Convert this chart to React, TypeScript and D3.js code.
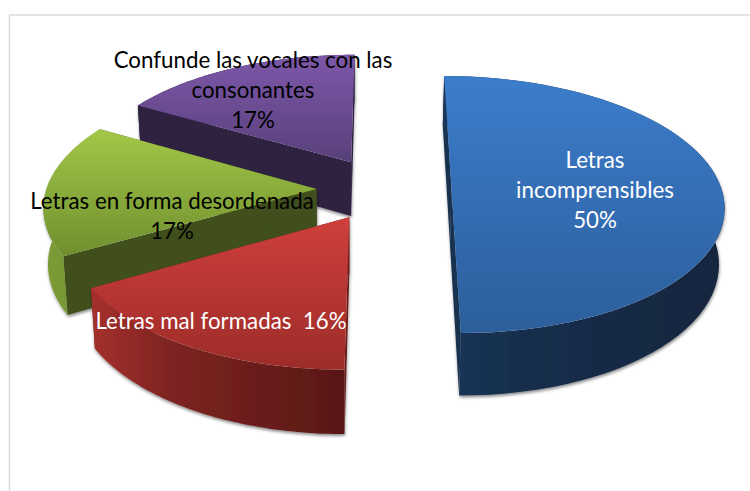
import React from "react";
import * as d3 from "d3";

const sliceNames = ["Letras incomprensibles", "Letras mal formadas", "Letras en forma desordenada", "Confunde las vocales con las consonantes"];
const sliceValues = [50, 16.67, 16.67, 16.66];
const labelLines = [
  ["Letras", "incomprensibles", "50%"],
  ["Letras mal formadas  16%"],
  ["Letras en forma desordenada", "17%"],
  ["Confunde las vocales con las", "consonantes", "17%"],
];
const labelColors = ["#ffffff", "#ffffff", "#000000", "#000000"];
const labelAnchors = [[595, 168], [221, 329], [172, 209], [253, 68]];
const topColors = [["#3c7dcb", "#2c5e9b"], ["#cf3f3b", "#9c2c29"], ["#a3c747", "#6f8f2f"], ["#7d58aa", "#58407a"]];
const rimColors = [["#1a3558", "#13263e"], ["#a5302c", "#571715"], ["#7b9c36", "#5f7c2a"], ["#2f2140", "#2f2140"]];
const sideColors = ["#16304f", "#6a1e1b", "#3f4f1d", "#2d2040"];

const W = 750, H = 491;
const cx = 384, cy = 189, A = 270, B = 126.6, persp = 0.121, explode = 0.25, depth = 55, squeeze = 0.985, pivot = 350;
const START = 0;

const xs = d3.scaleLinear().domain([-1, 1]).range([cx - A, cx + A]);
const ys = d3.scaleLinear().domain([-1, 1]).range([cy + B, cy - B]);

function project(u: number, v: number, low: boolean): [number, number] {
  const w = 1 + persp * v;
  const x = xs(u / w);
  const y = ys(v / w);
  if (!low) return [x, y];
  return [pivot + (x - pivot) * squeeze, y + depth / w];
}

const arcs = d3.pie<number>().sort(null).startAngle(START).endAngle(START + 2 * Math.PI)(sliceValues);
const closed = d3.line().curve(d3.curveLinearClosed);

type Slice = { i: number; top: string; rim: string; sideA: string; sideB: string; x0: number; x1: number; y0: number; y1: number };

const slices: Slice[] = arcs.map((a, i) => {
  const mid = (a.startAngle + a.endAngle) / 2;
  const ou = explode * Math.sin(mid), ov = explode * Math.cos(mid);
  const angles = d3.range(61).map((k) => a.startAngle + ((a.endAngle - a.startAngle) * k) / 60);
  const at = (t: number, low: boolean) => project(ou + Math.sin(t), ov + Math.cos(t), low);
  const apexT = project(ou, ov, false), apexL = project(ou, ov, true);
  const upper = angles.map((t) => at(t, false));
  const lower = angles.map((t) => at(t, true));
  const first = upper[0], last = upper[upper.length - 1];
  const all = [...upper, apexT];
  const [x0, x1] = d3.extent(all, (p) => p[0]) as [number, number];
  const [y0, y1] = d3.extent(all, (p) => p[1]) as [number, number];
  return {
    i,
    top: closed(all)!,
    rim: closed([...upper, ...lower.slice().reverse()])!,
    sideA: closed([apexT, first, lower[0], apexL])!,
    sideB: closed([apexT, last, lower[lower.length - 1], apexL])!,
    x0, x1, y0, y1,
  };
});

const paintOrder = [3, 2, 1, 0];

function midColor(c: string[]) {
  return d3.interpolateRgb(c[0], c[1])(0.5);
}

export default function App() {
  return (
    <svg width={W} height={H} viewBox={`0 0 ${W} ${H}`} style={{ position: "absolute", left: 0, top: 0, background: "#fff" }}
      fontFamily="Lato, 'Open Sans', sans-serif">
      <defs>
        <filter id="soft" x="-10%" y="-10%" width="120%" height="120%">
          <feDropShadow dx="0.5" dy="2" stdDeviation="1.8" floodColor="#000" floodOpacity="0.45" />
        </filter>
        {slices.map((s) => (
          <React.Fragment key={s.i}>
            <linearGradient id={`top${s.i}`} gradientUnits="userSpaceOnUse" x1="0" x2="0" y1={s.y0} y2={s.y1}>
              <stop offset="0" stopColor={topColors[s.i][0]} />
              <stop offset="1" stopColor={topColors[s.i][1]} />
            </linearGradient>
            <linearGradient id={`rim${s.i}`} gradientUnits="userSpaceOnUse" x1={s.x0} x2={s.x1} y1="0" y2="0">
              <stop offset="0" stopColor={rimColors[s.i][0]} />
              <stop offset="0.3" stopColor={midColor(rimColors[s.i])} />
              <stop offset="1" stopColor={rimColors[s.i][1]} />
            </linearGradient>
          </React.Fragment>
        ))}
      </defs>
      <rect x={9.5} y={15} width={W} height={H} fill="none" stroke="#dcdcdc" strokeWidth={1.5} />
      {paintOrder.map((i) => {
        const s = slices[i];
        return (
          <g key={i}>
            <g filter="url(#soft)">
              <path d={s.sideA} fill={sideColors[i]} />
              <path d={s.sideB} fill={sideColors[i]} />
              <path d={s.rim} fill={`url(#rim${i})`} />
            </g>
            <path d={s.top} fill={`url(#top${i})`} />
          </g>
        );
      })}
      {labelLines.map((lines, i) => (
        <text key={sliceNames[i]} x={labelAnchors[i][0]} y={labelAnchors[i][1]} textAnchor="middle" fontSize={22.3} fill={labelColors[i]}>
          {lines.map((l, k) => (
            <tspan key={k} x={labelAnchors[i][0]} y={labelAnchors[i][1] + k * 30} style={{ whiteSpace: "pre" }}>{l}</tspan>
          ))}
        </text>
      ))}
    </svg>
  );
}
